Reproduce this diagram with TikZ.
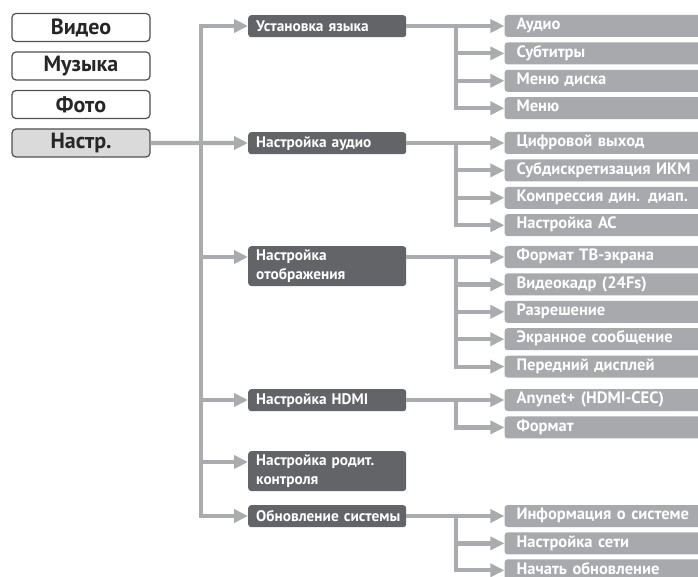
\documentclass[tikz,border=0pt]{standalone}
\usepackage{fontspec}
\setmainfont{PT Sans}
\usetikzlibrary{arrows.meta,positioning}
\definecolor{menuslate}{RGB}{99,100,103}
\definecolor{itemsilver}{RGB}{167,169,172}
\definecolor{linksilver}{RGB}{170,171,174}
\definecolor{tabframe}{RGB}{80,80,82}
\definecolor{tabpick}{RGB}{218,218,219}

\begin{document}
\begin{tikzpicture}[x=1pt, y=-1pt,
    >={Triangle[length=14pt,width=13pt]},
    tab/.style={draw=tabframe, line width=1.2pt, rounded corners=4pt, fill=#1, minimum width=138pt, minimum height=28pt, inner sep=0pt, font=\fontsize{22}{24}\selectfont\bfseries, text=black!85},
    grp/.style={fill=menuslate, rounded corners=3pt, text=white, text width=142pt, inner xsep=8pt, inner ysep=3.5pt, minimum height=22pt, align=left, anchor=north west, font=\fontsize{15.3}{19}\selectfont\bfseries},
    item/.style={fill=itemsilver, rounded corners=3pt, text=white, text width=180pt, inner xsep=12pt, inner ysep=4pt, minimum height=22pt, text height=10.5pt, text depth=3pt, font=\fontsize{16.5}{19}\selectfont\bfseries},
    link/.style={draw=linksilver, line width=4.2pt, ->},
    twoway/.style={draw=linksilver, line width=4.2pt, <->},
]
\useasboundingbox (0,0) rectangle (698,577);
\clip (0,0) rectangle (698,577);

% top menu tabs
\node[tab=white] (video) at (81,27.5) {Видео};
\node[tab=white, below=9.3pt of video] (music) {Музыка};
\node[tab=white, below=9.3pt of music] (photo) {Фото};
\node[tab=tabpick, below=9.3pt of photo] (setup) {Настр.};

% settings groups
\node[grp] (lang) at (248,15) {Установка языка};
\node[grp] (audio) at (248,132) {Настройка аудио};
\node[grp] (screen) at (248,246) {Настройка\\отображения};
\node[grp] (hdmi) at (248,389) {Настройка HDMI};
\node[grp] (parent) at (248,451) {Настройка родит.\\контроля};
\node[grp] (update) at (248,505) {Обновление~системы};
\foreach \g in {lang,audio,screen,hdmi,parent,update} {
    \coordinate (\g-in) at ([yshift=-11pt]\g.north west);
    \coordinate (\g-out) at ([yshift=-11pt]\g.north east);
}

% items
\node[item, anchor=west] (l1) at ([xshift=98pt]lang-out) {Аудио};
\node[item, below=5pt of l1] (l2) {Субтитры};
\node[item, below=5pt of l2] (l3) {Меню диска};
\node[item, below=5pt of l3] (l4) {Меню};

\node[item, anchor=west] (a1) at ([xshift=98pt]audio-out) {Цифровой выход};
\node[item, below=5pt of a1] (a2) {Субдискретизация ИКМ};
\node[item, below=5pt of a2] (a3) {Компрессия дин. диап.};
\node[item, below=5pt of a3] (a4) {Настройка АС};

\node[item, anchor=west] (s1) at ([xshift=98pt]screen-out) {Формат ТВ-экрана};
\node[item, below=5pt of s1] (s2) {Видеокадр (24Fs)};
\node[item, below=5pt of s2] (s3) {Разрешение};
\node[item, below=5pt of s3] (s4) {Экранное сообщение};
\node[item, below=5pt of s4] (s5) {Передний дисплей};

\node[item, anchor=west] (h1) at ([xshift=98pt]hdmi-out) {Anynet+ (HDMI-CEC)};
\node[item, below=5pt of h1] (h2) {Формат};

\node[item, anchor=west] (u1) at ([xshift=98pt]update-out) {Информация о системе};
\node[item, below=5pt of u1] (u2) {Настройка сети};
\node[item, below=4.5pt of u2] (u3) {Начать обновление};

% main trunk
\coordinate (trunk) at (201,0);
\coordinate (fork) at (456,0);
\draw[twoway] (lang-in) -| (trunk |- update-in) -- (update-in);
\foreach \g in {screen,hdmi,parent}
    \draw[link] (trunk |- \g-in) -- (\g-in);
\draw[link] (setup.east) -- (audio-in);

% sub trunks
\draw[link] (lang-out) -- (l1.west);
\draw[link] (fork |- lang-out) |- (l4.west);
\foreach \c in {l2,l3}
    \draw[link] (fork |- \c.west) -- (\c.west);

\draw[link] (audio-out) -- (a1.west);
\draw[link] (fork |- audio-out) |- (a4.west);
\foreach \c in {a2,a3}
    \draw[link] (fork |- \c.west) -- (\c.west);

\draw[link] (screen-out) -- (s1.west);
\draw[link] (fork |- screen-out) |- (s5.west);
\foreach \c in {s2,s3,s4}
    \draw[link] (fork |- \c.west) -- (\c.west);

\draw[link] (hdmi-out) -- (h1.west);
\draw[link] (fork |- hdmi-out) |- (h2.west);

\draw[link] (update-out) -- (u1.west);
\draw[link] (fork |- update-out) |- (u3.west);
\draw[link] (fork |- u2.west) -- (u2.west);
\end{tikzpicture}
\end{document}
